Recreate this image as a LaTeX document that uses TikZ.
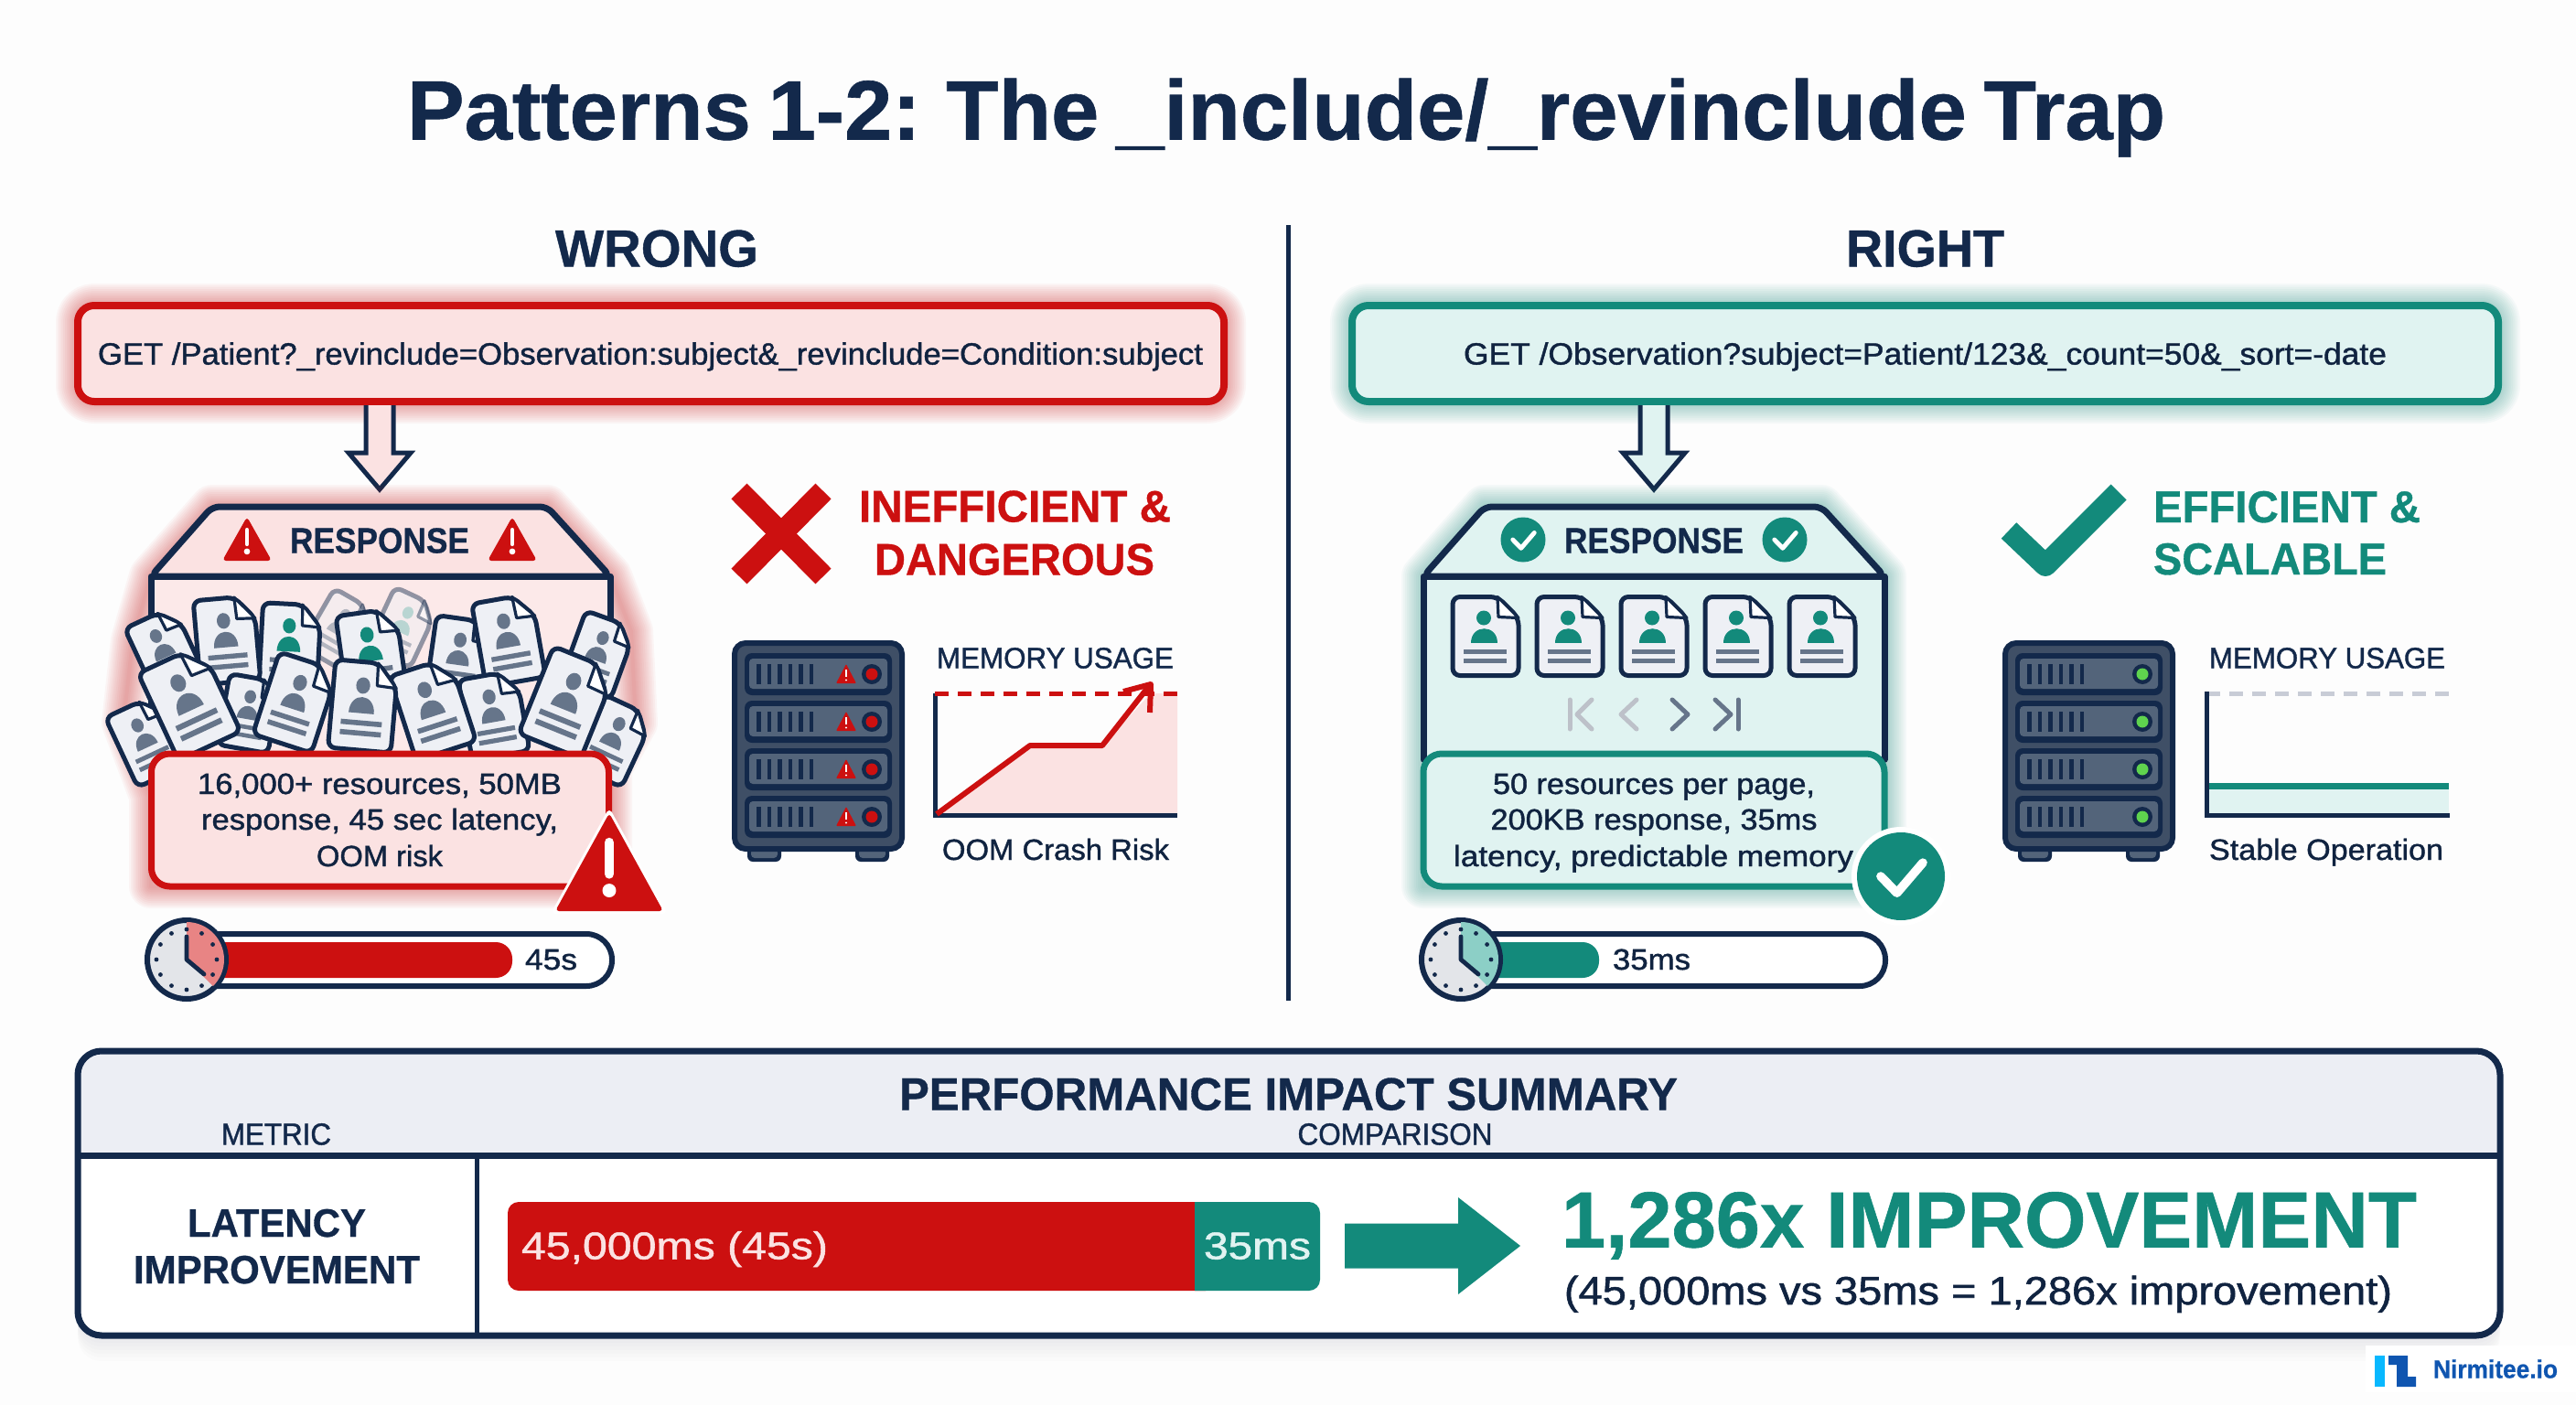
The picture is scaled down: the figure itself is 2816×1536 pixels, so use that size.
\documentclass[tikz,border=0pt]{standalone}
\usepackage{fontspec}
\usepackage{graphicx}
\setmainfont[BoldFeatures={FakeBold=0.7},UprightFeatures={FakeBold=1.2}]{Liberation Sans}
\usetikzlibrary{calc}
\definecolor{cNavy}{HTML}{13294B}
\definecolor{cRed}{HTML}{CC1010}
\definecolor{cTeal}{HTML}{138A7B}
\definecolor{cPink}{HTML}{FBE2E2}
\definecolor{cMint}{HTML}{E0F3F1}
\definecolor{cPaper}{HTML}{EEF0F5}
\definecolor{cSlate}{HTML}{66758A}
\definecolor{cRack}{HTML}{3F4F66}
\definecolor{cPanel}{HTML}{53647A}
\definecolor{cHead}{HTML}{ECEEF4}
\definecolor{cWedgeR}{HTML}{E88484}
\definecolor{cWedgeT}{HTML}{8CCFC6}
\definecolor{cGreen}{HTML}{5FD34E}
\definecolor{cGrayD}{HTML}{C8CCD6}
\definecolor{cLogoA}{HTML}{08B8FF}
\definecolor{cLogoB}{HTML}{0F55B0}
\newlength\ftw
\newlength\fts
\newcommand{\ftxt}[4]{\setlength\ftw{#1pt}\setlength\ftw{0.5\ftw}\setlength\fts{#2pt}\setlength\fts{0.698\fts}\resizebox{\ftw}{\height}{\fontsize{\fts}{\fts}\selectfont #3#4}}
% name, cx, cy, width, cap height, colour, weight, text
\newcommand{\txt}[8]{\node[anchor=base,inner sep=0pt,text=#6] (#1) at (#2,{#3+#5/2-1.5}) {\ftxt{#4}{#5}{#7}{#8}};}
\newcommand{\glowp}[2]{\foreach \gw in {24,22,...,2}{\draw[#1,line width=\gw pt,opacity=.035,line join=round] #2;}}
\def\docxs{1}\def\docys{1}
% cx, cy, rotation, scale, person colour, opacity
\newcommand{\docicon}[6]{\begin{scope}[shift={(#1,#2)},rotate=#3,xscale=#4*\docxs,yscale=#4*\docys,opacity=#6]
\draw[cNavy,line width=2.5pt,fill=cPaper,rounded corners=4pt,line join=round] (-36,-43) -- (13,-43) -- (36,-20) -- (36,43) -- (-36,43) -- cycle;
\draw[cNavy,line width=1.6pt,fill=white,line join=round] (13,-43) -- (14,-21) -- (36,-20) -- cycle;
\fill[#5] (-2,-20) circle[radius=8];
\fill[#5] (-16,7) .. controls (-16,-14) and (13,-14) .. (13,7) -- cycle;
\fill[cSlate] (-24,14) rectangle (23,19);
\fill[cSlate] (-24,24) rectangle (23,29);
\end{scope}}
% cx, top, bottom, half width
\newcommand{\warntri}[4]{\fill[cRed,rounded corners=2pt] (#1,#2) -- ({#1+#4},#3) -- ({#1-#4},#3) -- cycle;
\draw[white,line cap=round,line width={(#3-#2)*0.05pt}] (#1,{#2+0.3*(#3-#2)}) -- (#1,{#2+0.62*(#3-#2)});
\fill[white] (#1,{#2+0.79*(#3-#2)}) circle[radius={(#3-#2)*0.07}];}
% cx, cy, r
\newcommand{\checkcirc}[3]{\fill[cTeal] (#1,#2) circle[radius=#3];
\draw[white,line width={#3*0.1pt},line cap=round,line join=round] ({#1-0.46*#3},#2) -- ({#1-0.09*#3},{#2+0.38*#3}) -- ({#1+0.5*#3},{#2-0.31*#3});}
% cx, cy, wedge colour
\newcommand{\clockicon}[3]{\draw[cNavy,line width=3pt,fill=cPaper!90!gray] (#1,#2) circle[radius=43];
\begin{scope}\clip (#1,#2) circle[radius=41];
\fill[#3] (#1,#2) -- (#1,{#2-60}) -- ({#1+60},{#2-60}) -- ({#1+60},{#2+60}) -- cycle;
\end{scope}
\foreach \ca in {0,30,...,330}{\fill[cNavy] ({#1+33*cos(\ca)},{#2+33*sin(\ca)}) circle[radius=2.4];}
\draw[cNavy,line width=2.4pt,line cap=round,line join=round] (#1,{#2-25}) -- (#1,#2) -- ({#1+19},{#2+16});}
% x0, panel extras: 1 warn, 0 healthy
\newcommand{\rackbox}[2]{\fill[cNavy,rounded corners=3pt] ({#1+17},925) rectangle ({#1+54},942);
\fill[cNavy,rounded corners=3pt] ({#1+135},925) rectangle ({#1+172},942);
\fill[cPanel,rounded corners=2pt] ({#1+21},928) rectangle ({#1+50},938);
\fill[cPanel,rounded corners=2pt] ({#1+139},928) rectangle ({#1+168},938);
\draw[cNavy,line width=3pt,fill=cRack,rounded corners=6pt] ({#1+3},703) rectangle ({#1+186},928);
\foreach \ry in {737,789,841,893}{
\fill[cNavy,rounded corners=4pt] ({#1+14},\ry-23) rectangle ({#1+175},\ry+23);
\fill[cPanel,rounded corners=2pt] ({#1+19},\ry-17) rectangle ({#1+170},\ry+16);
\foreach \rv in {0,...,5}{\fill[cNavy] ({#1+27+\rv*11.5},\ry-11) rectangle ({#1+31.5+\rv*11.5},\ry+11);}
\fill[cNavy] ({#1+153},\ry) circle[radius=11];
\ifnum#2=1
\fill[cRed] ({#1+153},\ry) circle[radius=6.5];
\fill[cRed,rounded corners=.5pt] ({#1+125},\ry-11) -- ({#1+136},\ry+10) -- ({#1+114},\ry+10) -- cycle;
\draw[white,line width=.9pt] ({#1+125},\ry-5) -- ({#1+125},\ry+3);
\fill[white] ({#1+125},\ry+6.5) circle[radius=1.2];
\else
\fill[cGreen] ({#1+153},\ry) circle[radius=6.5];
\fi}}
% request node, tip coordinate, fill
\newcommand{\hollowarrow}[3]{\draw[cNavy,line width=2.5pt,fill=#3,miter limit=6] ($(#1.south -| #2)+(-15,0)$) -- ($(#2)+(-15,-40)$) -- ($(#2)+(-34,-40)$) -- (#2) -- ($(#2)+(34,-40)$) -- ($(#2)+(15,-40)$) -- ($(#1.south -| #2)+(15,0)$);}
\tikzset{
 reqbox/.style={rounded corners=9pt,line width=4pt,minimum width=626.5pt,minimum height=52.5pt,inner sep=0pt},
 sumbox/.style={rounded corners=10pt,line width=3.5pt,minimum width=250pt,minimum height=72.5pt,inner sep=0pt},
 housef/.style={cNavy,line width=3.5pt,line join=round},
}
\begin{document}
\begin{tikzpicture}[x=0.5pt,y=-0.5pt]
\useasboundingbox (0,0) rectangle (2816,1536);
\fill[white!99!cNavy] (0,0) rectangle (2816,1536);

\txt{title}{1406}{121}{1922}{66}{cNavy}{\bfseries\spaceskip=0.2em\relax}{Patterns 1-2: The \_include/\_revinclude Trap}
\txt{wrongT}{718}{272.5}{222}{41}{cNavy}{\bfseries}{WRONG}
\txt{rightT}{2104.5}{272.5}{173}{41}{cNavy}{\bfseries}{RIGHT}
\draw[cNavy,line width=2.5pt] (1408,246) -- (1408,1094);

%% LEFT request
\glowp{cRed}{[rounded corners=9pt] (85,334) rectangle (1338,439)}
\node[reqbox,draw=cRed,fill=cPink] (reqW) at (711.5,386.5) {};
\txt{reqWt}{711}{388}{1208}{24}{cNavy!85!black}{}{GET /Patient?\_revinclude=Observation:subject\&\_revinclude=Condition:subject}
\coordinate (tipW) at (415,535);
\hollowarrow{reqW}{tipW}{cPink}

%% LEFT response
\glowp{cRed}{(165,630) -- (232,554) -- (598,554) -- (667,630) -- (690,690) -- (695,790) -- (667,840) -- (667,969) -- (165,969) -- (165,870) -- (135,790) -- (145,700) -- cycle}
\draw[housef,fill=cPink!75!white] (165,630) rectangle (667,830);
\draw[housef,fill=cPink,rounded corners=4pt] (165,630) -- (232,554) -- (598,554) -- (667,630) -- cycle;
\coordinate (respW) at (416,551);
\warntri{270}{565}{613}{27}
\warntri{560}{565}{613}{27}
\txt{respWt}{415}{592}{196}{28}{cNavy}{\bfseries}{RESPONSE}
% heap of documents
\def\docxs{1.04}\def\docys{1.22}
\docicon{370}{688}{-30}{.7}{cSlate}{.45}
\docicon{440}{686}{-25}{.7}{cTeal!60!white}{.45}
\docicon{317}{705}{-3}{.85}{cTeal}{1}
\docicon{180}{712}{25}{.78}{cSlate}{1}
\docicon{248}{700}{5}{.88}{cSlate}{1}
\docicon{406}{715}{8}{.88}{cTeal}{1}
\docicon{502}{720}{-8}{.83}{cSlate}{1}
\docicon{654}{716}{-20}{.78}{cSlate}{1}
\docicon{556}{700}{10}{.88}{cSlate}{1}
\docicon{160}{810}{25}{.8}{cSlate}{1}
\docicon{670}{810}{-25}{.8}{cSlate}{1}
\docicon{272}{780}{-10}{.75}{cSlate}{1}
\docicon{207}{768}{25}{1.0}{cSlate}{1}
\docicon{540}{782}{10}{.85}{cSlate}{1}
\docicon{323}{768}{-18}{.9}{cSlate}{1}
\docicon{473}{775}{18}{.92}{cSlate}{1}
\docicon{397}{772}{-5}{.92}{cSlate}{1}
\docicon{620}{768}{-22}{.98}{cSlate}{1}
\def\docxs{1}\def\docys{1}
\node[sumbox,draw=cRed,fill=cPink] (sumW) at (415.5,896.5) {};
\txt{sumW1}{415}{858}{398}{23}{cNavy!85!black}{}{16,000+ resources, 50MB}
\txt{sumW2}{415}{897}{390}{23}{cNavy!85!black}{}{response, 45 sec latency,}
\txt{sumW3}{415}{937}{138}{23}{cNavy!85!black}{}{OOM risk}
\draw[white,line width=3pt,line join=round] (666,889) -- (725,996) -- (607,996) -- cycle;
\warntri{666}{889}{996}{59}
% latency pill
\draw[cNavy,line width=3pt,fill=white,rounded corners=14pt] (190,1021) rectangle (669,1078);
\fill[cRed,rounded corners=9pt] (204,1030) rectangle (560,1069);
\txt{pillW}{602.5}{1050}{57}{23}{cNavy!85!black}{}{45s}
\clockicon{204}{1049}{cWedgeR}

% verdict
\draw[cRed,line width=12pt,rounded corners=1pt] (808,537) -- (900,630);
\draw[cRed,line width=12pt,rounded corners=1pt] (900,537) -- (808,630);
\txt{verdW1}{1109.5}{554.5}{341}{35}{cRed}{\bfseries}{INEFFICIENT \&}
\txt{verdW2}{1109}{612.5}{306}{35}{cRed}{\bfseries}{DANGEROUS}
\rackbox{800}{1}
\txt{memW}{1153.5}{720.5}{259}{23}{cNavy}{}{MEMORY USAGE}
\fill[cPink] (1022,891) -- (1126,815) -- (1205,815) -- (1258,758) -- (1287,758) -- (1287,891) -- cycle;
\draw[cNavy,line width=2.5pt] (1022,758) -- (1022,891) -- (1287,891);
\draw[cRed,line width=2.5pt,dash pattern=on 7.5pt off 5pt] (1022,758) -- (1287,758);
\draw[cRed,line width=3pt,line join=round] (1024,890) -- (1126,815) -- (1205,815) -- (1256,750);
\draw[cRed,line width=3pt,line join=round] (1228,756) -- (1258,748) -- (1257,779);
\txt{oomW}{1154}{930}{248}{23}{cNavy!85!black}{}{OOM Crash Risk}

%% RIGHT request
\glowp{cTeal}{[rounded corners=9pt] (1478,334) rectangle (2731,439)}
\node[reqbox,draw=cTeal,fill=cMint] (reqR) at (2104.5,386.5) {};
\txt{reqRt}{2104.5}{388}{1009}{24}{cNavy!85!black}{}{GET /Observation?subject=Patient/123\&\_count=50\&\_sort=-date}
\coordinate (tipR) at (1808,535);
\hollowarrow{reqR}{tipR}{cMint}

%% RIGHT response
\glowp{cTeal}{(1556,630) -- (1623,554) -- (1991,554) -- (2060,630) -- (2060,969) -- (1556,969) -- cycle}
\draw[housef,fill=cMint] (1556,630) rectangle (2060,830);
\draw[housef,fill=cMint,rounded corners=4pt] (1556,630) -- (1623,554) -- (1991,554) -- (2060,630) -- cycle;
\coordinate (respR) at (1808,551);
\checkcirc{1665}{590}{24.5}
\checkcirc{1951}{590}{24.5}
\txt{respRt}{1808}{592}{196}{28}{cNavy}{\bfseries}{RESPONSE}
\foreach \dx in {1624,1716,1808,1900,1992}{\docicon{\dx}{695.5}{0}{1}{cTeal}{1}}
% pager
\draw[cGrayD!85!gray,line width=2.5pt,line cap=round,line join=round] (1716,765) -- (1716,797);
\draw[cGrayD!85!gray,line width=2.5pt,line cap=round,line join=round] (1740,765) -- (1724,781) -- (1740,797);
\draw[cGrayD!85!gray,line width=2.5pt,line cap=round,line join=round] (1789,765) -- (1772,781) -- (1789,797);
\draw[cSlate,line width=2.5pt,line cap=round,line join=round] (1828,765) -- (1845,781) -- (1828,797);
\draw[cSlate,line width=2.5pt,line cap=round,line join=round] (1875,765) -- (1892,781) -- (1875,797);
\draw[cSlate,line width=2.5pt,line cap=round,line join=round] (1900,765) -- (1900,797);
\node[sumbox,draw=cTeal,fill=cMint,minimum width=252pt] (sumR) at (1808,896.5) {};
\txt{sumR1}{1808}{858}{352}{23}{cNavy!85!black}{}{50 resources per page,}
\txt{sumR2}{1808}{897}{357}{23}{cNavy!85!black}{}{200KB response, 35ms}
\txt{sumR3}{1807.5}{937}{437}{23}{cNavy!85!black}{}{latency, predictable memory}
\fill[white] (2078,958) circle[radius=54];
\checkcirc{2078}{958}{48}
\draw[cNavy,line width=3pt,fill=white,rounded corners=14pt] (1584,1021) rectangle (2061,1078);
\fill[cTeal,rounded corners=9pt] (1597,1030) rectangle (1748,1069);
\txt{pillR}{1805.5}{1050}{85}{23}{cNavy!85!black}{}{35ms}
\clockicon{1597}{1049}{cWedgeT}

\draw[cTeal,line width=12pt,line join=round] (2196,580) -- (2236,618) -- (2316,538);
\txt{verdR1}{2500}{555}{292}{35}{cTeal}{\bfseries}{EFFICIENT \&}
\txt{verdR2}{2481.5}{612}{255}{35}{cTeal}{\bfseries}{SCALABLE}
\rackbox{2189}{0}
\txt{memR}{2544}{720.5}{258}{23}{cNavy}{}{MEMORY USAGE}
\fill[cMint] (2412,859) rectangle (2677,891);
\draw[cGrayD,line width=2.5pt,dash pattern=on 7.5pt off 5pt] (2412,758) -- (2677,758);
\draw[cTeal,line width=3.5pt] (2412,859) -- (2677,859);
\draw[cNavy,line width=2.5pt] (2412,756) -- (2412,891) -- (2678,891);
\txt{stableR}{2543}{930}{256}{23}{cNavy!85!black}{}{Stable Operation}

%% summary table
\foreach \sy in {4,8,...,28}{\fill[cNavy,opacity=.012,rounded corners=13pt] (85,1149+\sy) rectangle (2733,1460+\sy);}
\fill[white,rounded corners=13pt] (85,1149) rectangle (2733,1460);
\fill[cHead] (85,1263) [rounded corners=13pt] -- (85,1149) -- (2733,1149) [sharp corners] -- (2733,1263) -- cycle;
\draw[cNavy,line width=2.5pt] (521,1263) -- (521,1460);
\draw[cNavy,line width=3.5pt] (85,1263) -- (2733,1263);
\draw[cNavy,line width=3.5pt,rounded corners=13pt] (85,1149) rectangle (2733,1460);
\txt{perf}{1408.5}{1197}{851}{36}{cNavy}{\bfseries}{PERFORMANCE IMPACT SUMMARY}
\txt{metric}{302}{1241}{120}{24}{cNavy}{}{METRIC}
\txt{compar}{1525}{1241}{213}{24}{cNavy}{}{COMPARISON}
\txt{lat1}{302.5}{1338}{195}{31}{cNavy}{\bfseries}{LATENCY}
\txt{lat2}{302.5}{1389}{313}{31}{cNavy}{\bfseries}{IMPROVEMENT}
\fill[cRed,rounded corners=6pt] (555,1314) rectangle (1330,1411);
\fill[cTeal] (1306,1314) [rounded corners=6pt] -- (1443,1314) -- (1443,1411) [sharp corners] -- (1306,1411) -- cycle;
\txt{barR}{737.5}{1363}{335}{30}{cPink}{}{45,000ms (45s)}
\txt{barT}{1374.5}{1363}{117}{30}{cMint}{}{35ms}
\coordinate (gainA) at (1470,1362);
\coordinate (gainB) at (1662,1362);
\fill[cTeal] ($(gainA)+(0,-24.5)$) -- ($(gainB)+(-68,-24.5)$) -- ($(gainB)+(-68,-53)$) -- (gainB) -- ($(gainB)+(-68,53)$) -- ($(gainB)+(-68,24.5)$) -- ($(gainA)+(0,24.5)$) -- cycle;
\txt{gain}{2174.5}{1334}{935}{62}{cTeal}{\bfseries}{1,286x IMPROVEMENT}
\txt{gainSub}{2162.5}{1412}{905}{31}{cNavy!85!black}{}{(45,000ms vs 35ms = 1,286x improvement)}

%% logo
\fill[white] (2586,1471) rectangle (2816,1522);
\fill[cLogoA] (2596,1482) rectangle (2607,1516);
\fill[cLogoB] (2611,1482) -- (2632,1482) -- (2632,1505) -- (2641,1505) -- (2641,1516) -- (2620,1516) -- (2620,1492) -- (2611,1492) -- cycle;
\txt{logo}{2728}{1498}{136}{20}{cLogoB}{\bfseries}{Nirmitee.io}
\end{tikzpicture}
\end{document}
